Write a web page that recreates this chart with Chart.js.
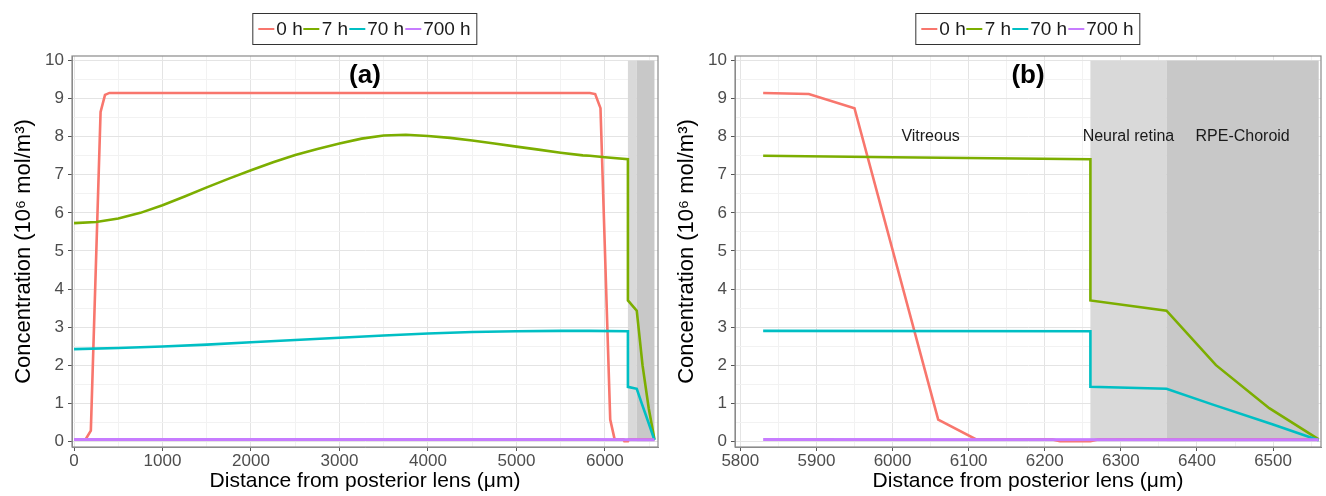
<!DOCTYPE html>
<html>
<head>
<meta charset="utf-8">
<script src="https://cdn.jsdelivr.net/npm/chart.js@4.4.1/dist/chart.umd.min.js"></script>
<style>
  body { margin: 0; background: #fff; font-family: "Liberation Sans", Arial, sans-serif; }
  .wrap { display: flex; width: 1326px; height: 496px; }
  .panel { position: relative; width: 663px; height: 496px; }
  .legend {
    position: absolute; top: 13px; left: 365px; transform: translateX(-50%);
    display: flex; align-items: center; height: 32px; box-sizing: border-box;
    border: 1.3px solid #333; padding: 0 5px; font-size: 19px; color: #1a1a1a; white-space: nowrap;
  }
  .legend .key { display: inline-block; width: 16px; height: 2.6px; margin-right: 2px; }
  .legend .lab { margin-right: 1px; }
</style>
</head>
<body>
<div class="wrap">
  <div class="panel"><canvas id="chartA" width="663" height="496"></canvas><div class="legend" id="legendA"></div></div>
  <div class="panel"><canvas id="chartB" width="663" height="496"></canvas><div class="legend" id="legendB"></div></div>
</div>
<script>
const seriesNames = ['0 h', '7 h', '70 h', '700 h'];
const seriesColors = ['#F8766D', '#7CAE00', '#00BFC4', '#C77CFF'];

// 0 h
const x0h = [0, 130, 190, 300, 350, 400, 5830, 5890, 5950, 6060, 6110, 6210, 6220, 6260, 6270, 6560];
const y0h = [0.05, 0.05, 0.28, 8.65, 9.1, 9.15, 9.15, 9.12, 8.75, 0.57, 0.05, 0.05, 0.0, 0.0, 0.05, 0.05];
// 7 h
const x7h = [0, 250, 500, 750, 1000, 1250, 1500, 1750, 2000, 2250, 2500, 2750, 3000, 3250, 3500, 3750,
  4000, 4250, 4500, 4750, 5000, 5250, 5500, 5750, 5830, 6000, 6260, 6260, 6360, 6425, 6495, 6560];
const y7h = [5.73, 5.76, 5.85, 6.0, 6.2, 6.43, 6.67, 6.9, 7.12, 7.33, 7.52, 7.68, 7.82, 7.95, 8.03, 8.05,
  8.02, 7.97, 7.9, 7.82, 7.74, 7.66, 7.58, 7.51, 7.5, 7.46, 7.41, 3.7, 3.43, 2.0, 0.87, 0.05];
// 70 h
const x70h = [0, 500, 1000, 1500, 2000, 2500, 3000, 3500, 4000, 4500, 5000, 5500, 5830, 6260, 6260, 6360, 6420, 6500, 6560];
const y70h = [2.42, 2.45, 2.49, 2.54, 2.6, 2.66, 2.72, 2.78, 2.83, 2.87, 2.89, 2.9, 2.9, 2.89, 1.43, 1.38, 0.97, 0.44, 0.03];
// 700 h
const x700h = [0, 5830, 6560];
const y700h = [0.05, 0.05, 0.04];

// axis ticks
const yMajor = [0, 1, 2, 3, 4, 5, 6, 7, 8, 9, 10];
const yMinor = [0.5, 1.5, 2.5, 3.5, 4.5, 5.5, 6.5, 7.5, 8.5, 9.5];
const xMajorA = [0, 1000, 2000, 3000, 4000, 5000, 6000];
const xMinorA = [500, 1500, 2500, 3500, 4500, 5500, 6500];
const xMajorB = [5800, 5900, 6000, 6100, 6200, 6300, 6400, 6500];
const xMinorB = [5850, 5950, 6050, 6150, 6250, 6350, 6450, 6550];

// tissue layers and labels
const regionStart = [6260, 6360];
const regionEnd = [6360, 6560];
const regionColors = ['#d9d9d9', '#c8c8c8'];
const noteText = ['Vitreous', 'Neural retina', 'RPE-Choroid'];
const noteX = [6050, 6310, 6460];
const noteY = [8, 8, 8];

const xs = [x0h, x7h, x70h, x700h];
const ys = [y0h, y7h, y70h, y700h];
const FONT = '"Liberation Sans", Arial, sans-serif';

function makeLegend(id) {
  const el = document.getElementById(id);
  seriesNames.forEach((n, i) => {
    const k = document.createElement('span');
    k.className = 'key';
    k.style.background = seriesColors[i];
    const t = document.createElement('span');
    t.className = 'lab';
    t.textContent = n;
    el.appendChild(k);
    el.appendChild(t);
  });
}
makeLegend('legendA');
makeLegend('legendB');

const panelDecor = {
  id: 'panelDecor',
  beforeDatasetsDraw(chart, args, opts) {
    const { ctx, chartArea: a, scales: { x, y } } = chart;
    ctx.save();
    ctx.beginPath();
    ctx.rect(a.left, a.top, a.width, a.height);
    ctx.clip();
    regionStart.forEach((s, i) => {
      const x1 = x.getPixelForValue(s), x2 = x.getPixelForValue(regionEnd[i]);
      const y1 = y.getPixelForValue(10), y2 = y.getPixelForValue(0);
      ctx.fillStyle = regionColors[i];
      ctx.fillRect(x1, y1, x2 - x1, y2 - y1);
    });
    ctx.restore();
  },
  afterDatasetsDraw(chart, args, opts) {
    const { ctx, chartArea: a, scales: { x, y } } = chart;
    ctx.save();
    if (opts.notes) {
      ctx.font = '16px ' + FONT;
      ctx.fillStyle = '#1a1a1a';
      ctx.textAlign = 'center';
      ctx.textBaseline = 'middle';
      noteText.forEach((t, i) => {
        ctx.fillText(t, x.getPixelForValue(noteX[i]), y.getPixelForValue(noteY[i]));
      });
    }
    ctx.font = 'bold 26px ' + FONT;
    ctx.fillStyle = '#000';
    ctx.textAlign = 'center';
    ctx.textBaseline = 'middle';
    ctx.fillText(opts.label, (a.left + a.right) / 2, a.top + 20);
    ctx.strokeStyle = '#8a8a8a';
    ctx.lineWidth = 1.2;
    ctx.strokeRect(a.left, a.top, a.width, a.height);
    ctx.restore();
  }
};

function tickScale(majors, minors) {
  const all = majors.concat(minors).sort((p, q) => p - q);
  return {
    afterBuildTicks: s => { s.ticks = all.map(v => ({ value: v })); },
    grid: {
      color: c => majors.includes(c.tick.value) ? '#e4e4e4' : '#f2f2f2',
      lineWidth: 1,
      tickLength: 4,
      tickColor: c => majors.includes(c.tick.value) ? '#555' : 'rgba(0,0,0,0)'
    },
    border: { display: true, color: '#8a8a8a', width: 1 },
    ticks: {
      autoSkip: false,
      maxRotation: 0,
      color: '#4d4d4d',
      font: { family: FONT, size: 17 },
      callback: v => majors.includes(v) ? String(v) : ''
    }
  };
}

function makeChart(id, label, xMin, xMax, xMajor, xMinor, from, notes) {
  const datasets = seriesNames.map((n, i) => ({
    label: n,
    data: xs[i].map((v, j) => ({ x: v, y: ys[i][j] })).filter(p => p.x >= from),
    borderColor: seriesColors[i],
    backgroundColor: seriesColors[i],
    borderWidth: i === 3 ? 3 : 2.6,
    pointRadius: 0,
    tension: 0,
    order: 3 - i
  }));
  const xOpts = tickScale(xMajor, xMinor);
  const yOpts = tickScale(yMajor, yMinor);
  return new Chart(document.getElementById(id), {
    type: 'line',
    data: { datasets },
    plugins: [panelDecor],
    options: {
      responsive: false,
      animation: false,
      layout: { padding: { top: 56, right: 5, left: 0, bottom: 0 } },
      plugins: {
        legend: { display: false },
        tooltip: { enabled: false },
        panelDecor: { label, notes }
      },
      scales: {
        x: Object.assign(xOpts, {
          type: 'linear',
          min: xMin,
          max: xMax,
          afterFit: s => { s.height = 49; },
          ticks: Object.assign(xOpts.ticks, { padding: 0 }),
          title: {
            display: true,
            text: 'Distance from posterior lens (μm)',
            color: '#000',
            font: { family: FONT, size: 21 },
            padding: { top: 0, bottom: 2 }
          }
        }),
        y: Object.assign(yOpts, {
          type: 'linear',
          min: -0.15,
          max: 10.12,
          afterFit: s => { s.width = 72; },
          ticks: Object.assign(yOpts.ticks, { padding: 4 }),
          title: {
            display: true,
            text: 'Concentration (10⁶ mol/m³)',
            color: '#000',
            font: { family: FONT, size: 22 },
            padding: { top: 11, bottom: 0 }
          }
        })
      }
    }
  });
}

makeChart('chartA', '(a)', -23, 6600, xMajorA, xMinorA, 0, false);
makeChart('chartB', '(b)', 5793, 6563, xMajorB, xMinorB, 5830, true);
</script>
</body>
</html>
